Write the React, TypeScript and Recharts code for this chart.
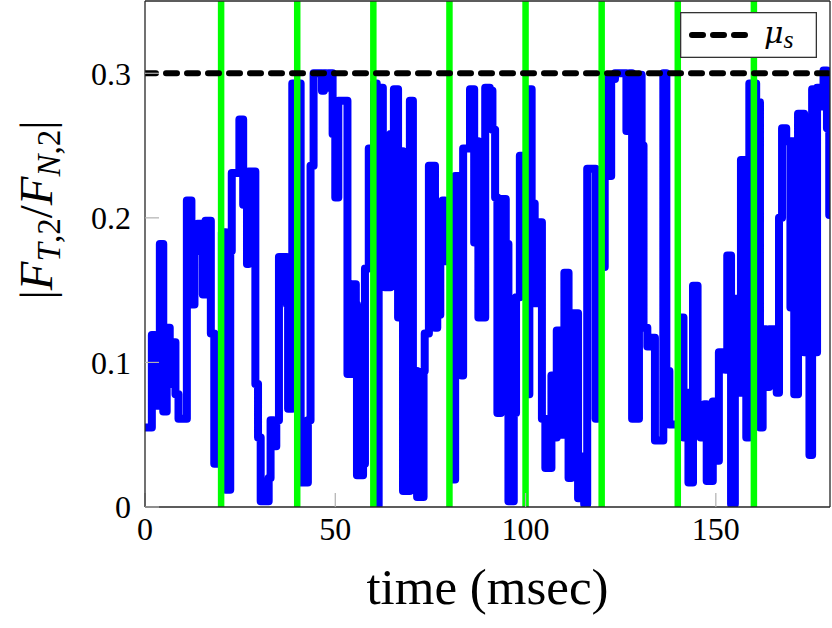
import React from 'react';
import { LineChart, Line, XAxis, YAxis, ReferenceLine, Legend } from 'recharts';

const TIMES = [
  0, 1.8, 2.6, 3.9, 4.8, 5.7, 6.5, 7.0, 8.0, 8.8, 11.0, 12.2, 13.0, 13.8, 15.2, 15.9, 17.3, 18.2, 20.2, 21.2,
  22.4, 22.8, 24.8, 25.8, 26.8, 27.2, 29.0, 29.7, 30.4, 32.5, 33.0, 33.8, 34.5, 35.2, 37.3, 37.6, 38.7, 40.9, 42.8, 43.5,
  44.3, 46.5, 47.0, 47.6, 48.2, 49.3, 50.0, 50.8, 53.2, 54.3, 55.4, 55.7, 57.3, 57.8, 58.8, 60.2, 60.9, 61.4, 62.5, 63.0,
  64.5, 65.0, 65.4, 66.5, 67.3, 67.8, 69.6, 70.4, 71.0, 71.5, 73.2, 73.5, 74.6, 76.2, 76.8, 77.6, 78.2, 78.8, 79.3, 80.5,
  81.5, 83.2, 83.6, 85.4, 86.5, 87.2, 87.6, 89.4, 90.6, 91.3, 92.0, 92.6, 93.5, 94.8, 95.5, 96.9, 97.5, 98.5, 100.6, 101.0,
  101.6, 102.4, 102.9, 104.3, 105.2, 106.8, 107.3, 108.2, 109.3, 110.2, 111.3, 112.0, 113.8, 114.6, 115.4, 116.2, 118.4, 118.9, 119.6, 120.8,
  121.5, 122.5, 123.5, 126.5, 127.3, 128.0, 129.8, 130.5, 131.0, 132.0, 133.2, 134.0, 136.2, 137.0, 137.8, 140.8, 141.5, 142.0, 142.8, 144.0,
  145.2, 146.0, 147.0, 147.6, 149.2, 149.8, 150.8, 152.5, 153.0, 154.0, 155.0, 156.0, 156.6, 158.0, 158.8, 160.6, 161.6, 162.3, 163.2, 164.0,
  166.0, 166.6, 167.4, 168.5, 169.6, 170.0, 170.6, 171.6, 173.2, 173.6, 174.6, 175.3, 176.0, 176.6, 177.6, 178.3, 179.2, 179.8, 180,
];

const RATIO = [
  0.055, 0.119, 0.070, 0.182, 0.066, 0.124, 0.085, 0.114, 0.078, 0.061, 0.212, 0.140, 0.177, 0.196, 0.147, 0.198, 0.120, 0.030, 0.190, 0.012,
  0.177, 0.231, 0.268, 0.209, 0.168, 0.232, 0.085, 0.048, 0.004, 0.020, 0.060, 0.042, 0.060, 0.173, 0.140, 0.068, 0.293, 0.017, 0.060, 0.236,
  0.300, 0.288, 0.300, 0.290, 0.300, 0.258, 0.214, 0.281, 0.092, 0.154, 0.140, 0.022, 0.030, 0.165, 0.248, 0.293, 0.001, 0.290, 0.240, 0.152,
  0.258, 0.231, 0.289, 0.131, 0.246, 0.011, 0.281, 0.020, 0.094, 0.007, 0.094, 0.120, 0.236, 0.124, 0.133, 0.200, 0.212, 0.170, 0.200, 0.019,
  0.229, 0.091, 0.248, 0.289, 0.183, 0.253, 0.131, 0.290, 0.288, 0.261, 0.214, 0.065, 0.213, 0.182, 0.004, 0.065, 0.145, 0.243, 0.078, 0.289,
  0.210, 0.141, 0.197, 0.061, 0.027, 0.091, 0.048, 0.122, 0.050, 0.162, 0.020, 0.134, 0.006, 0.035, 0.002, 0.234, 0.061, 0.177, 0.166, 0.296,
  0.229, 0.296, 0.300, 0.260, 0.300, 0.061, 0.299, 0.250, 0.124, 0.111, 0.117, 0.046, 0.300, 0.094, 0.057, 0.131, 0.048, 0.079, 0.017, 0.153,
  0.069, 0.048, 0.071, 0.018, 0.073, 0.032, 0.107, 0.095, 0.174, 0.002, 0.144, 0.079, 0.240, 0.048, 0.293, 0.280, 0.055, 0.123, 0.083, 0.123,
  0.079, 0.200, 0.262, 0.253, 0.138, 0.253, 0.078, 0.272, 0.107, 0.179, 0.036, 0.289, 0.107, 0.290, 0.277, 0.302, 0.262, 0.202, 0.202,
];

const MU_S = 0.3;
const EVENT_TIMES = [20, 40, 60, 80, 100, 120, 140, 160];
const X_TICKS = [0, 50, 100, 150];
const Y_TICKS = [0, 0.1, 0.2, 0.3];
const X_LABEL = 'time (msec)';

const data = TIMES.map((t, i) => ({ t, ratio: RATIO[i], mu: MU_S }));

const FONT = 'Liberation Serif, Times New Roman, serif';
const GREEK_FONT = 'DejaVu Serif, serif';
const TICK_STYLE = { fontSize: 32, fill: '#000', fontFamily: FONT };

const XLabel = (props: any) => {
  const vb = props.viewBox || {};
  return (
    <text x={vb.x + vb.width / 2} y={vb.y + 97} textAnchor="middle" fontSize={51} fontFamily={FONT} fill="#000">
      {X_LABEL}
    </text>
  );
};

const YLabel = () => {
  const cx = 52;
  const cy = 210;
  return (
    <text x={cx} y={cy} transform={`rotate(-90, ${cx}, ${cy})`} textAnchor="middle" fontSize={47} fontFamily={FONT} fill="#000">
      <tspan>|</tspan>
      <tspan fontStyle="italic">F</tspan>
      <tspan fontSize={33} dy={8} fontStyle="italic">T</tspan>
      <tspan fontSize={33}>,2</tspan>
      <tspan dy={-8}>/</tspan>
      <tspan fontStyle="italic">F</tspan>
      <tspan fontSize={33} dy={8} fontStyle="italic">N</tspan>
      <tspan fontSize={33}>,2</tspan>
      <tspan dy={-8}>|</tspan>
    </text>
  );
};

const LegendBox = () => (
  <svg width={137} height={46} style={{ display: 'block' }}>
    <rect x={0.65} y={0.65} width={135.7} height={44.7} fill="#fff" stroke="#333" strokeWidth={1.3} />
    <line x1={12} y1={23} x2={66} y2={23} stroke="#000" strokeWidth={6} strokeDasharray="11 10" strokeLinecap="round" />
    <text x={84} y={31} fontSize={30} fill="#000">
      <tspan fontFamily={GREEK_FONT} fontStyle="italic">μ</tspan>
      <tspan fontFamily={FONT} fontStyle="italic" fontSize={26} dy={5}>s</tspan>
    </text>
  </svg>
);

export default function App() {
  return (
    <div style={{ position: 'absolute', left: 0, top: 0, width: 832, height: 628, background: '#fff' }}>
      <LineChart width={832} height={628} data={data} margin={{ top: 0, right: 0, bottom: 0, left: 0 }}>
        <XAxis
          dataKey="t"
          type="number"
          domain={[0, 180]}
          ticks={X_TICKS}
          height={121}
          allowDataOverflow
          tick={TICK_STYLE}
          tickSize={-14}
          tickMargin={24}
          tickLine={{ stroke: '#b0b0b0', strokeWidth: 1.2 }}
          axisLine={{ stroke: '#262626', strokeWidth: 1.3 }}
          label={<XLabel />}
        />
        <XAxis
          xAxisId="top"
          orientation="top"
          type="number"
          domain={[0, 180]}
          ticks={X_TICKS}
          height={1}
          tick={false}
          tickSize={-14}
          tickLine={{ stroke: '#b0b0b0', strokeWidth: 1.2 }}
          axisLine={{ stroke: '#262626', strokeWidth: 1.3 }}
        />
        <YAxis
          type="number"
          domain={[0, 0.35]}
          ticks={Y_TICKS}
          width={145}
          allowDataOverflow
          tick={TICK_STYLE}
          tickSize={-14}
          tickMargin={28}
          tickLine={{ stroke: '#b0b0b0', strokeWidth: 1.2 }}
          axisLine={{ stroke: '#262626', strokeWidth: 1.3 }}
          tickFormatter={(v: number) => String(v)}
          label={<YLabel />}
        />
        <YAxis
          yAxisId="right"
          orientation="right"
          type="number"
          domain={[0, 0.35]}
          ticks={Y_TICKS}
          width={2}
          tick={false}
          tickSize={-14}
          tickLine={{ stroke: '#b0b0b0', strokeWidth: 1.2 }}
          axisLine={{ stroke: '#262626', strokeWidth: 1.3 }}
        />
        <Line
          dataKey="ratio"
          type="stepAfter"
          stroke="#0000ff"
          strokeWidth={8}
          strokeLinejoin="round"
          strokeLinecap="round"
          dot={false}
          activeDot={false}
          legendType="none"
          isAnimationActive={false}
        />
        {EVENT_TIMES.map((t) => (
          <ReferenceLine key={t} x={t} stroke="#00ff00" strokeWidth={6.5} />
        ))}
        <Line
          dataKey="mu"
          name="μs"
          type="linear"
          stroke="#000"
          strokeWidth={6}
          strokeDasharray="11 10"
          strokeLinecap="round"
          dot={false}
          activeDot={false}
          isAnimationActive={false}
        />
        <Legend
          layout="vertical"
          align="center"
          verticalAlign="middle"
          content={<LegendBox />}
          wrapperStyle={{ position: 'absolute', left: 680, top: 12, width: 137, height: 46 }}
        />
      </LineChart>
    </div>
  );
}
